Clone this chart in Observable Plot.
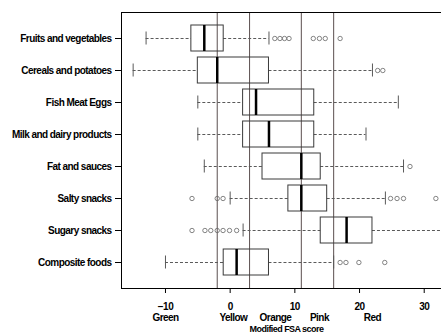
<!DOCTYPE html>
<html><head><meta charset="utf-8">
<script src="https://cdn.jsdelivr.net/npm/d3@7"></script>
<script src="https://cdn.jsdelivr.net/npm/@observablehq/plot@0.6"></script>
<style>
html,body{margin:0;padding:0;overflow:hidden;background:#fff}
#chart svg text{letter-spacing:-0.55px}
</style>
</head><body><div id="chart"></div>
<script>
const categories = ["Fruits and vegetables","Cereals and potatoes","Fish Meat Eggs","Milk and dairy products","Fat and sauces","Salty snacks","Sugary snacks","Composite foods"];
const whiskerLo = [-13, -15, -5, -5, -4, 0, 2, -10];
const q1 =        [-6, -5, 2, 2, 5, 9, 14, -1];
const medians =   [-4, -2, 4, 6, 11, 11, 18, 1];
const q3 =        [-1, 6, 13, 13, 14, 15, 22, 6];
const whiskerHi = [6, 22, 26, 21, 26.8, 24, 32.7, 16];
const outliers = [
  [6.9, 7.7, 8.4, 9.1, 12.85, 13.8, 14.7, 17],
  [22.8, 23.6],
  [],
  [],
  [27.8],
  [-5.9, -2.0, -1.1, 24.8, 25.8, 26.8, 31.8],
  [-5.9, -3.9, -3.0, -2.0, -1.1, -0.1, 1.0],
  [17, 17.9, 19.9, 23.9]
];
const thresholds = [-2, 3, 11, 16];
const xTicks = [-10, 0, 10, 20, 30];
const fsaLabels = ["Green", "Yellow", "Orange", "Pink", "Red"];
const fsaLabelPos = [-10, 0.5, 7, 13.8, 22];
const xTitle = "Modified FSA score";

const stats = categories.map((c, i) => ({category: c, lo: whiskerLo[i], q1: q1[i], median: medians[i], q3: q3[i], hi: whiskerHi[i]}));
const outlierRows = categories.flatMap((c, i) => outliers[i].map(v => ({category: c, value: v})));
const fsaRows = fsaLabels.map((l, i) => ({label: l, x: fsaLabelPos[i]}));

const boxStroke = "#3a3a3a";
const whiskerStroke = "#5a5a5a";

const chart = Plot.plot({
  width: 441, height: 333,
  marginLeft: 121, marginRight: -6, marginTop: 12, marginBottom: 45,
  style: {fontFamily: "'Liberation Sans', Arial, sans-serif", fontSize: "10px", background: "#fff", color: "#000", overflow: "hidden"},
  x: {domain: [-16.8, 33.6]},
  y: {domain: categories, paddingInner: 0.1875, paddingOuter: 0.406},
  marks: [
    Plot.ruleX(thresholds, {stroke: "#5b4f4f", strokeWidth: 1}),
    Plot.ruleY(stats, {y: "category", x1: "lo", x2: "q1", stroke: whiskerStroke, strokeDasharray: "3,2"}),
    Plot.ruleY(stats, {y: "category", x1: "q3", x2: "hi", stroke: whiskerStroke, strokeDasharray: "3,2"}),
    Plot.tickX(stats, {x: "lo", y: "category", insetTop: 6.5, insetBottom: 6.5, stroke: whiskerStroke}),
    Plot.tickX(stats, {x: "hi", y: "category", insetTop: 6.5, insetBottom: 6.5, stroke: whiskerStroke}),
    Plot.barX(stats, {x1: "q1", x2: "q3", y: "category", fill: "none", stroke: boxStroke, strokeWidth: 1}),
    Plot.tickX(stats, {x: "median", y: "category", stroke: "#000", strokeWidth: 2.5}),
    Plot.dot(outlierRows, {x: "value", y: "category", r: 2.2, stroke: "#666", strokeWidth: 0.8, fill: "none"}),
    Plot.axisY({tickSize: 6, tickPadding: 4, fontSize: 10, fontWeight: "bold", label: null}),
    Plot.axisX(xTicks, {tickSize: 5, tickPadding: 9, fontSize: 10, fontWeight: "bold", label: null}),
    Plot.text(fsaRows, {x: "x", text: "label", frameAnchor: "bottom", lineAnchor: "bottom", dy: 32, fontSize: 10, fontWeight: "bold"}),
    Plot.text([xTitle], {text: d => d, frameAnchor: "bottom", lineAnchor: "bottom", dx: 2, dy: 43, fontSize: 9, fontWeight: "bold"}),
    Plot.frame({stroke: "#000"})
  ]
});
document.getElementById("chart").appendChild(chart);
</script>
</body></html>
